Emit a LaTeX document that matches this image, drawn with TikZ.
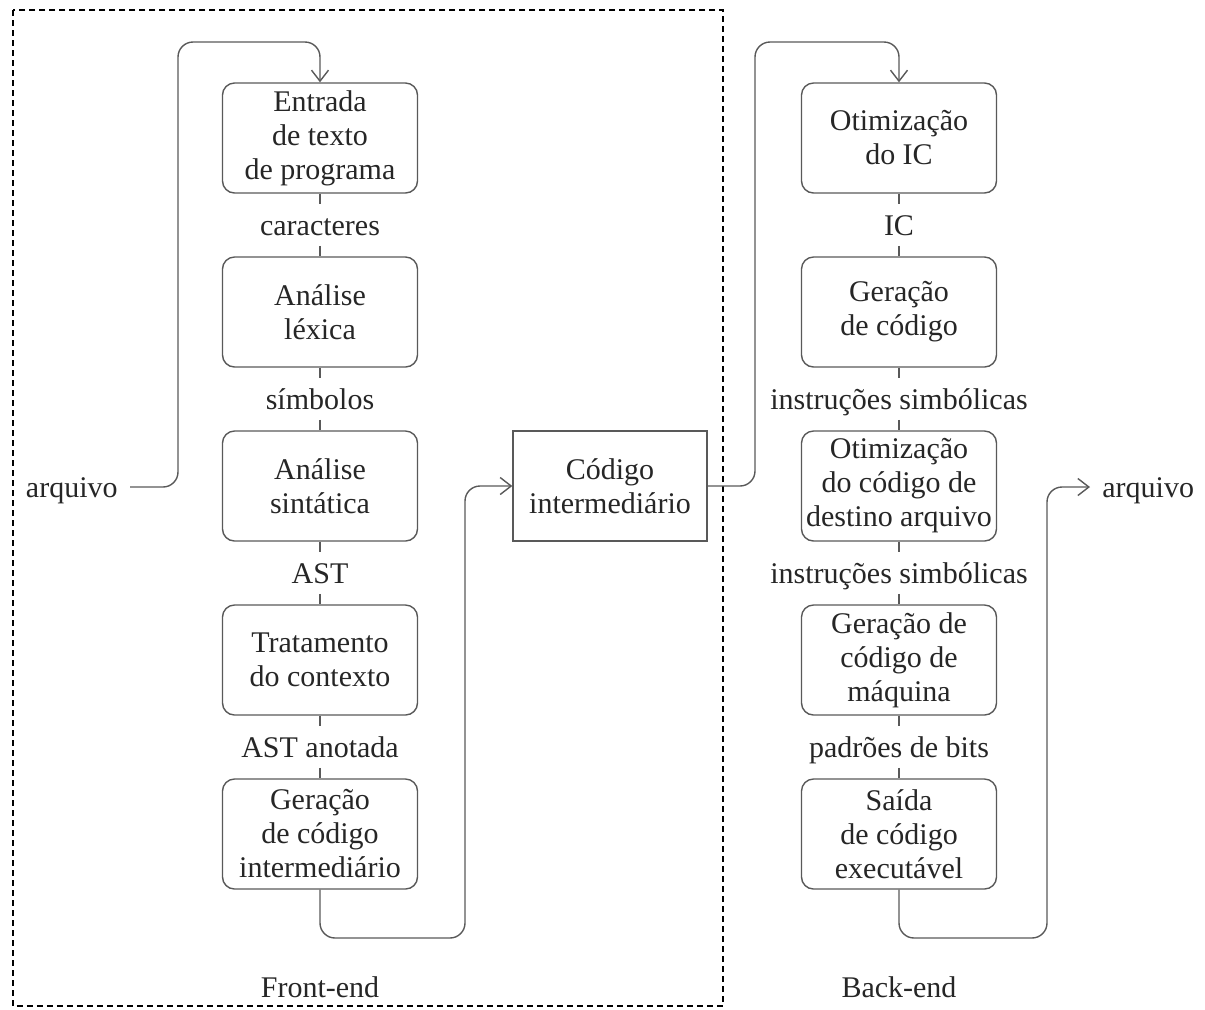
\documentclass[tikz,border=0pt]{standalone}
\usepackage{fontspec}
\setmainfont{Liberation Serif}
\usetikzlibrary{arrows.meta,positioning}

\begin{document}
\begin{tikzpicture}[
  >={Straight Barb[length=5.5pt,width=8.5pt]},
  every node/.style={font=\fontsize{15}{17}\selectfont, text=black!85},
  on grid, node distance=43.5pt,
  stage/.style={draw=black!65, line width=0.7pt, rounded corners=6pt,
    minimum width=97.5pt, minimum height=55pt, align=center, inner sep=2pt},
  ir/.style={stage, rounded corners=0pt, minimum width=97pt},
  tag/.style={inner sep=3pt, text height=12.5pt, text depth=2pt},
  link/.style={draw=black!65, line width=0.7pt},
  flow/.style={link, ->, rounded corners=7.5pt}
]
  \useasboundingbox (0,0) rectangle (602.5pt,-504.5pt);

  % Front-end column
  \node[stage] (ent) at (160pt,-69pt) {Entrada\\de texto\\de programa};
  \node[tag] (car) [below=of ent] {caracteres};
  \node[stage] (lex) [below=of car] {Análise\\léxica};
  \node[tag] (sim) [below=of lex] {símbolos};
  \node[stage] (sin) [below=of sim] {Análise\\sintática};
  \node[tag] (ast) [below=of sin] {AST};
  \node[stage] (ctx) [below=of ast] {Tratamento\\do contexto};
  \node[tag] (asa) [below=of ctx] {AST anotada};
  \node[stage] (gci) [below=of asa] {Geração\\de código\\intermediário};
  \node (front) [below=76.5pt of gci] {Front-end};

  % Intermediate code
  \node[ir] (mid) [right=145pt of sin] {Código\\intermediário};

  % Back-end column
  \node[stage] (oic) at (449.5pt,-69pt) {Otimização\\do IC};
  \node[tag] (ic) [below=of oic] {IC};
  \node[stage] (gco) [below=of ic] {Geração\\de código};
  \node[tag] (ins1) [below=of gco] {instruções simbólicas};
  \node[stage] (ocd) [below=of ins1] {Otimização\\do código de\\destino arquivo};
  \node[tag] (ins2) [below=of ocd] {instruções simbólicas};
  \node[stage] (gcm) [below=of ins2] {Geração de\\código de\\máquina};
  \node[tag] (bits) [below=of gcm] {padrões de bits};
  \node[stage] (sai) [below=of bits] {Saída\\de código\\executável};
  \node (back) [below=76.5pt of sai] {Back-end};

  % Files
  \node[tag, inner xsep=6pt, anchor=east] (arqin) at (65pt,-243.5pt) {arquivo};
  \node[tag, inner xsep=6pt, anchor=west] (arqout) at (545pt,-243.5pt) {arquivo};

  \coordinate (topL) at (89pt,-21pt);
  \coordinate (botL) at (232.5pt,-469pt);
  \coordinate (topR) at (377.5pt,-21pt);
  \coordinate (botR) at (523.5pt,-469pt);

  % Front-end frame
  \draw[black, line width=0.6pt, dash pattern=on 3pt off 2pt]
    (6.5pt,-5pt) rectangle (361.5pt,-503pt);

  % Column links
  \draw[link] (ent) -- (car) -- (lex) -- (sim) -- (sin) -- (ast)
    -- (ctx) -- (asa) -- (gci);
  \draw[link] (oic) -- (ic) -- (gco) -- (ins1) -- (ocd) -- (ins2)
    -- (gcm) -- (bits) -- (sai);

  % Data flow
  \draw[flow] (arqin.east) -| (topL) -| (ent.north);
  \draw[flow] (gci.south) |- (botL) |- (mid.west);
  \draw[flow] (mid.east) -| (topR) -| (oic.north);
  \draw[flow] (sai.south) |- (botR) |- (arqout.west);
\end{tikzpicture}
\end{document}
